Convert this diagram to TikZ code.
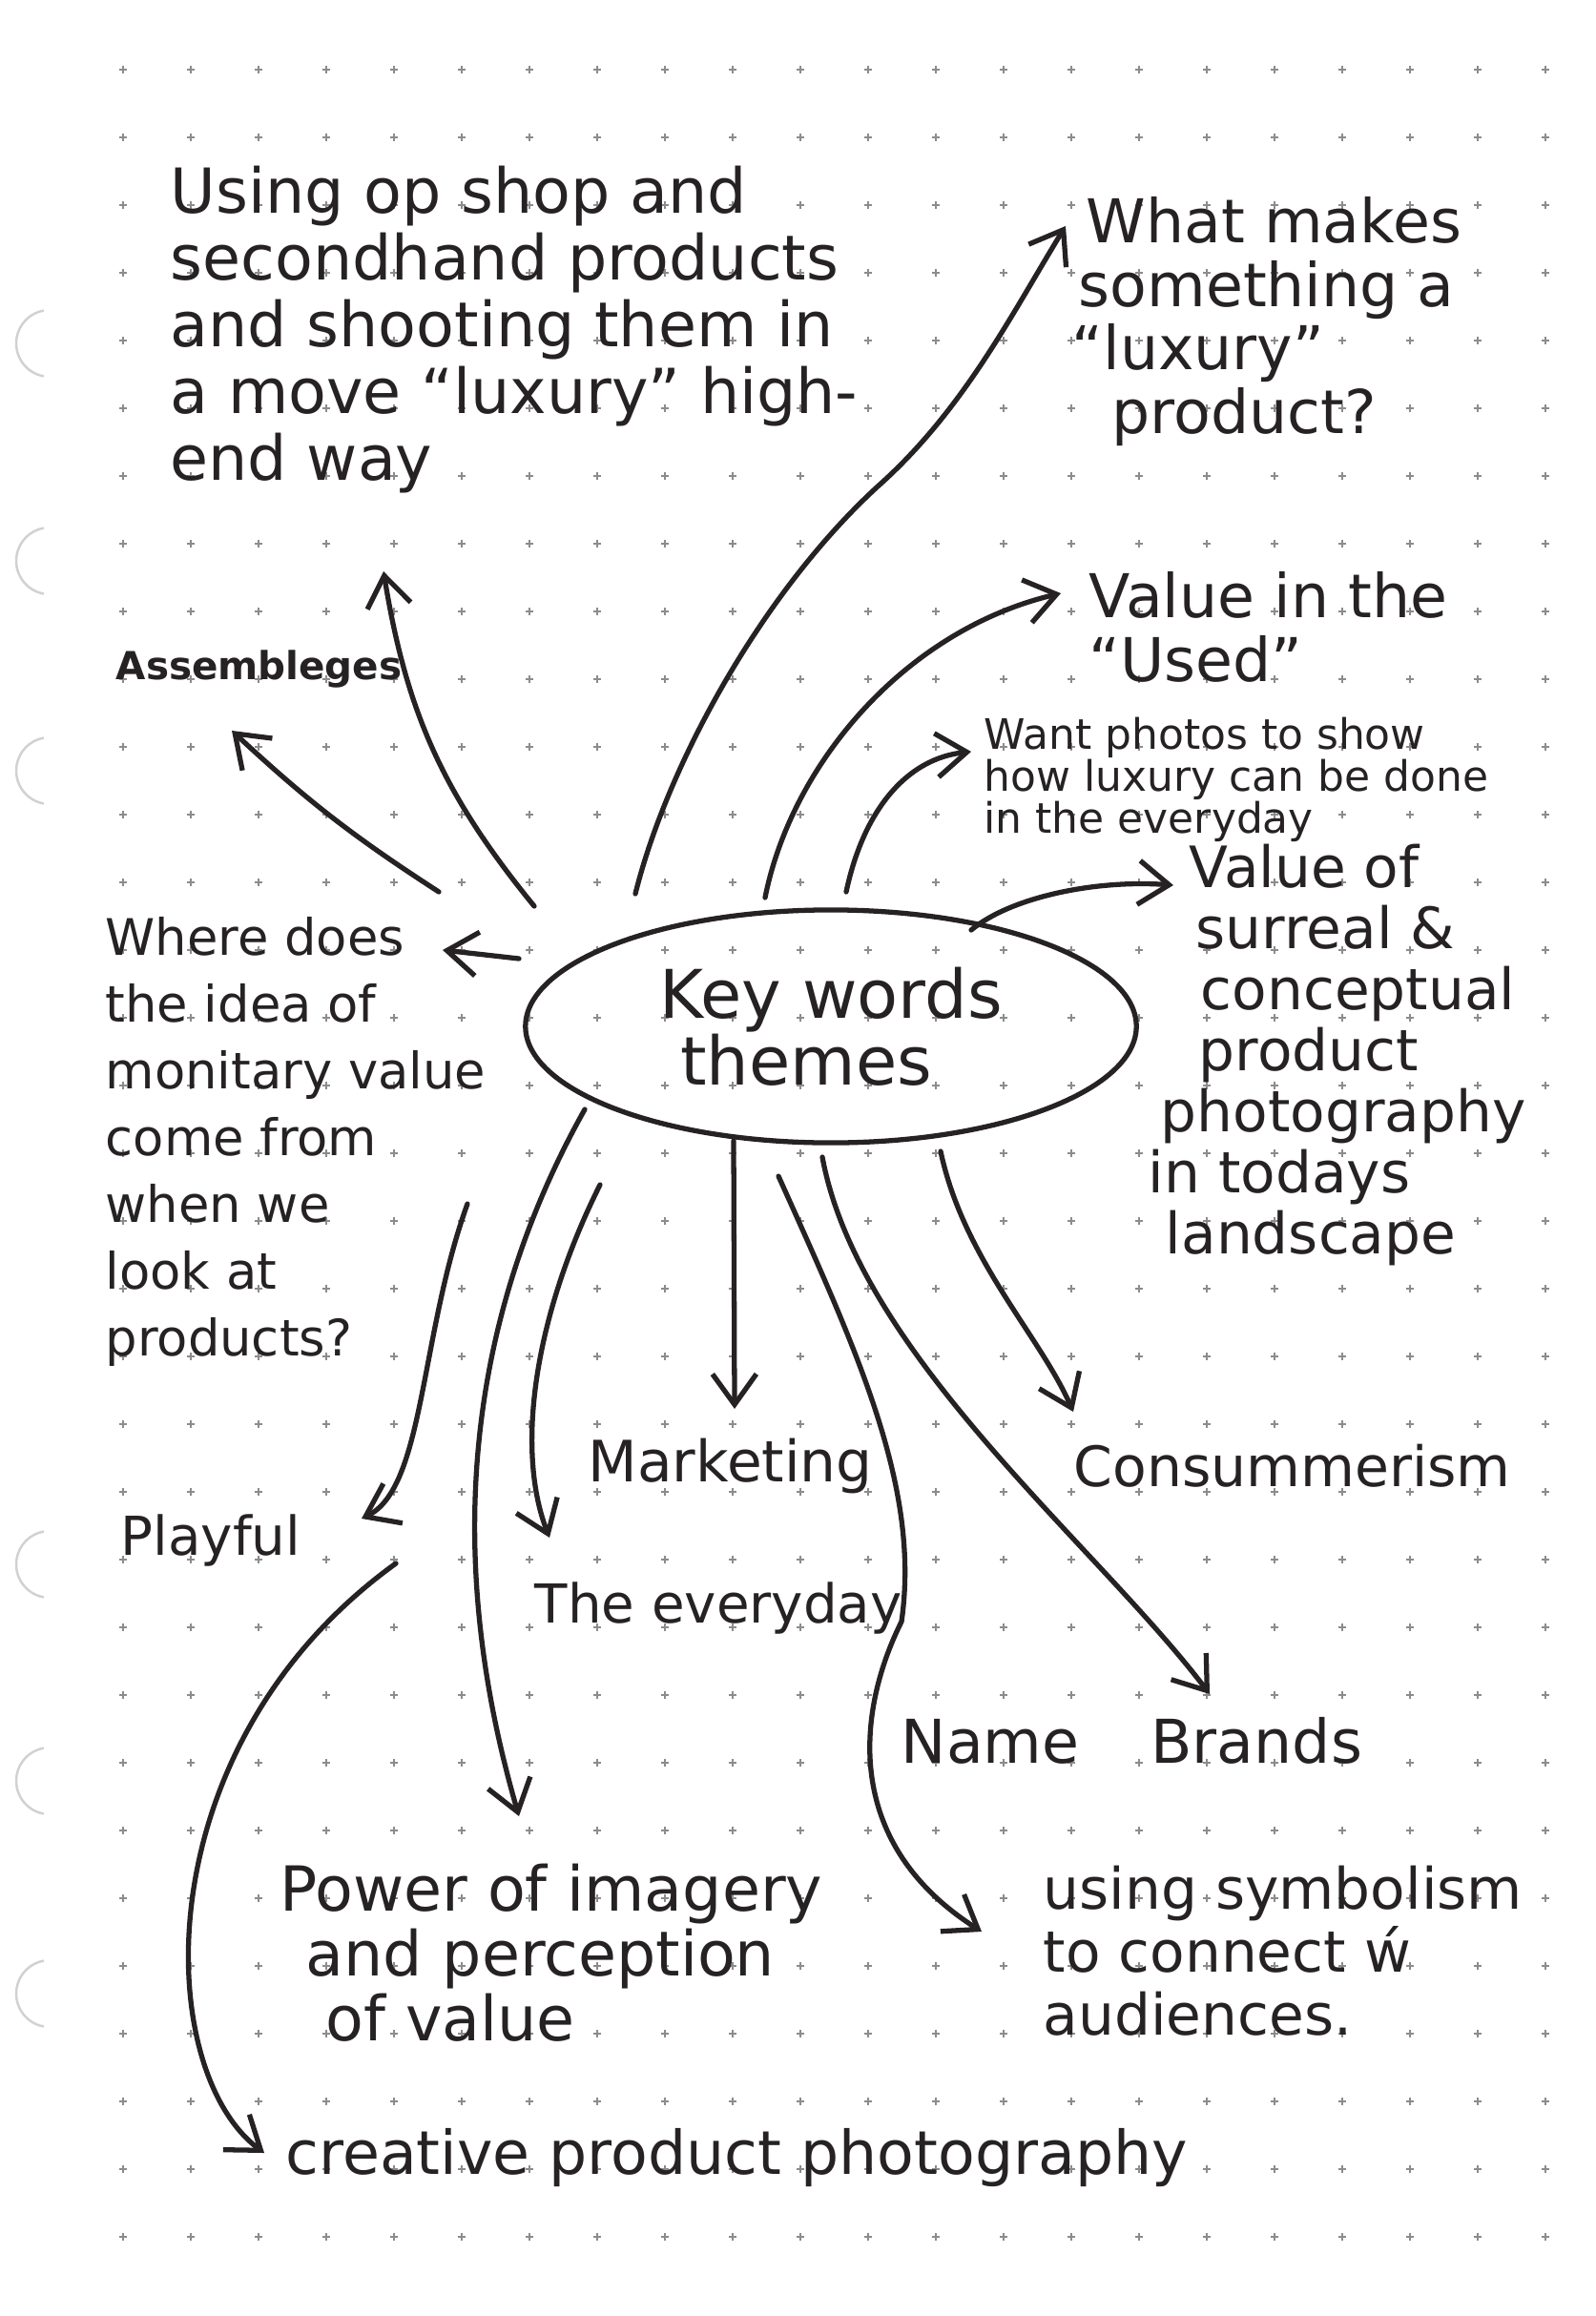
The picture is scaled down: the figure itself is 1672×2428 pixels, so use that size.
\documentclass[tikz,border=0pt]{standalone}
\usepackage{fontspec}
\setmainfont{DejaVu Sans}
\usetikzlibrary{arrows.meta, shapes.geometric, positioning, calc}
\definecolor{ink}{HTML}{262223}
\definecolor{dotgrey}{HTML}{8C8C8C}

\begin{document}
\begin{tikzpicture}[
    x=0.01cm, y=-0.01cm,
    note/.style={text=ink, inner sep=0pt, anchor=west, align=left},
    hand/.style={note, font=\fontsize{18}{19}\selectfont},
    smallnote/.style={note, font=\fontsize{12.5}{12.5}\selectfont},
    arrow/.style={-{Straight Barb[length=3.2mm, width=4.6mm]}, line width=1.5pt, draw=ink, line cap=round, line join=round}
]
\fill[white] (0,0) rectangle (1672,2428);
\useasboundingbox (0,0) rectangle (1672,2428);

% dot grid of the page
\foreach \i in {0,...,21}
  \foreach \j in {0,...,32}
    \draw[dotgrey, line width=0.4pt] (125+71*\i, 73+71*\j) -- +(8,0) (129+71*\i, 69+71*\j) -- +(0,8);

% binder holes
\foreach \h in {360,588,808,1640,1867,2090}
  \draw[black!18, line width=0.7pt] (52,\h) ++(100:35) arc[start angle=100, end angle=260, radius=35];

\node[ellipse, draw=ink, line width=1.5pt, minimum width=6.4cm, minimum height=2.44cm, inner sep=0pt, text=ink, align=left, font=\fontsize{20}{20}\selectfont] (key) at (871,1076) {Key words\\\hspace*{0.22cm}themes};

\node[note, font=\fontsize{18.5}{19.9}\selectfont] (usingop) at (178,346) {Using op shop and\\secondhand products\\and shooting them in\\a move “luxury” high-\\end way};
\node[hand] (whatmakes) at (1123,337) {\hspace*{0.15cm}What makes\\\hspace*{0.07cm}something a\\“luxury”\\\hspace*{0.42cm}product?};
\node[hand] (valueused) at (1141,657) {Value in the\\“Used”};
\node[smallnote] (wantphotos) at (1031,817) {Want photos to show\\how luxury can be done\\in the everyday};
\node[note, font=\fontsize{17}{18.2}\selectfont] (valueof) at (1203,1106) {\hspace*{0.43cm}Value of\\\hspace*{0.5cm}surreal \&\\\hspace*{0.55cm}conceptual\\\hspace*{0.53cm}product\\\hspace*{0.13cm}photography\\in todays\\\hspace*{0.18cm}landscape};
\node[note, font=\fontsize{15}{19.9}\selectfont] (wheredoes) at (110,1197) {Where does\\the idea of\\monitary value\\come from\\when we\\look at\\products?};
\node[note, font=\bfseries\fontsize{11.5}{12}\selectfont] (assembleges) at (121,701) {Assembleges};
\node[note, font=\fontsize{16}{18}\selectfont] (playful) at (126,1615) {Playful};
\node[note, font=\fontsize{17}{18}\selectfont] (marketing) at (616,1537) {Marketing};
\node[note, font=\fontsize{16}{18}\selectfont] (everyday) at (560,1686) {The everyday};
\node[note, font=\fontsize{16.6}{18}\selectfont] (consum) at (1125,1537) {Consummerism};
\node[hand] (namebrands) at (944,1825) {Name\hspace{0.75cm}Brands};
\node[note, font=\fontsize{18.5}{19.3}\selectfont] (power) at (293,2047) {Power of imagery\\\hspace*{0.27cm}and perception\\\hspace*{0.48cm}of value};
\node[note, font=\fontsize{17}{18.7}\selectfont] (symbolism) at (1093,2045) {using symbolism\\to connect ẃ\\audiences.};
\node[hand] (creative) at (299,2262) {creative product photography};

% branches above the oval
\draw[arrow] ($(key)+(-411,-141)$) to[bend left=5] ($(assembleges.west)+(122,65)$);
\draw[arrow] ($(key)+(-311,-126)$) to[bend left=15] ($(usingop.west)+(224,253)$);
\draw[arrow] ($(key)+(-205,-139)$) .. controls (700,800) and (800,620) .. (920,510) .. controls (1010,430) and (1060,330) .. ($(whatmakes.west)+(-6,-100)$);
\draw[arrow] ($(key)+(-69,-135)$) .. controls (830,800) and (950,660) .. ($(valueused.west)+(-29,-35)$);
\draw[arrow] ($(key)+(16,-141)$) .. controls (905,850) and (950,795) .. ($(wantphotos.west)+(-13,-29)$);
\draw[arrow] ($(key)+(147,-101)$) .. controls (1060,940) and (1150,922) .. ($(valueof.west)+(27,-178)$);
\draw[arrow] ($(key)+(-327,-71)$) -- ($(wheredoes.west)+(354,-201)$);

% branches below the oval
\draw[arrow] ($(key)+(-381,186)$) .. controls (440,1400) and (445,1560) .. ($(playful.west)+(253,-23)$);
\draw[arrow] ($(playful.west)+(289,24)$) .. controls (150,1830) and (160,2170) .. ($(creative.west)+(-22,-5)$);
\draw[arrow] ($(key)+(-242,166)$) .. controls (560,1380) and (540,1520) .. ($(everyday.west)+(16,-74)$);
\draw[arrow] ($(key)+(-258,87)$) .. controls (480,1400) and (470,1650) .. ($(power.west)+(251,-143)$);
\draw[arrow] ($(key)+(-102,120)$) -- ($(marketing.west)+(154,-60)$);
\draw[arrow] ($(key)+(-55,157)$) .. controls (900,1420) and (965,1560) .. (945,1700) .. controls (900,1790) and (880,1930) .. ($(symbolism.west)+(-64,-20)$);
\draw[arrow] ($(key)+(-9,137)$) .. controls (900,1420) and (1150,1620) .. ($(namebrands.west)+(324,-49)$);
\draw[arrow] ($(key)+(115,131)$) .. controls (1010,1320) and (1090,1400) .. ($(consum.west)+(0,-57)$);

\end{tikzpicture}
\end{document}
